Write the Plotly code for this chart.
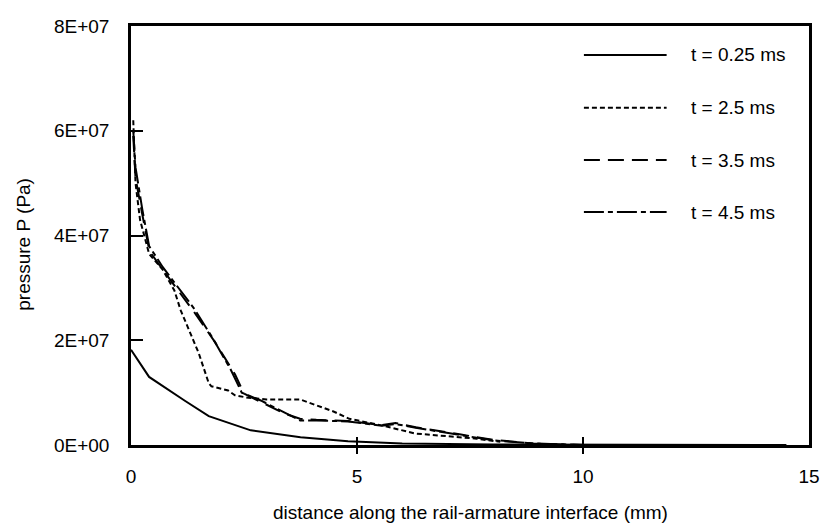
import plotly.graph_objects as go

# ---- data ----
x_025 = [0.0, 0.4, 1.2, 1.72, 2.65, 3.75, 4.8, 6.0, 8.0, 10.0, 12.0, 14.5]
p_025 = [1.82e7, 1.30e7, 0.84e7, 0.55e7, 0.28e7, 0.15e7, 0.07e7, 0.03e7, 0.01e7, 0.004e7, 0.001e7, 0.0]

x_25 = [0.05, 0.1, 0.2, 0.4, 0.7, 0.96, 1.1, 1.28, 1.5, 1.72, 1.78, 2.15, 2.3, 2.6, 3.0, 3.74,
        4.48, 4.83, 5.57, 6.28, 6.57, 7.65, 8.17]
p_25 = [6.2e7, 5.0e7, 4.3e7, 3.65e7, 3.35e7, 2.95e7, 2.57e7, 2.19e7, 1.75e7, 1.18e7, 1.12e7, 1.04e7,
        0.95e7, 0.9e7, 0.87e7, 0.87e7, 0.64e7, 0.5e7, 0.37e7, 0.22e7, 0.2e7, 0.12e7, 0.06e7]

x_35 = [0.05, 0.1, 0.25, 0.41, 0.7, 1.0, 1.43, 1.87, 2.3, 2.5, 2.87, 3.4, 3.74, 4.1, 4.8,
        5.55, 5.85, 6.3, 7.3, 8.0, 8.9, 10.0]
p_35 = [5.9e7, 5.1e7, 4.4e7, 3.7e7, 3.35e7, 3.0e7, 2.5e7, 1.95e7, 1.35e7, 0.98e7, 0.83e7, 0.6e7,
        0.5e7, 0.48e7, 0.46e7, 0.38e7, 0.42e7, 0.34e7, 0.2e7, 0.1e7, 0.03e7, 0.0]

x_45 = [0.05, 0.1, 0.25, 0.4, 0.7, 1.0, 1.4, 1.8, 2.2, 2.45, 2.87, 3.4, 3.74, 4.1, 4.8,
        5.55, 5.85, 6.3, 7.3, 8.0, 8.9, 10.0]
p_45 = [6.0e7, 5.3e7, 4.5e7, 3.8e7, 3.4e7, 3.05e7, 2.6e7, 2.05e7, 1.45e7, 1.0e7, 0.85e7, 0.62e7,
        0.47e7, 0.47e7, 0.45e7, 0.37e7, 0.4e7, 0.33e7, 0.19e7, 0.09e7, 0.03e7, 0.0]

series_names = ["t = 0.25 ms", "t = 2.5 ms", "t = 3.5 ms", "t = 4.5 ms"]
series_x = [x_025, x_25, x_35, x_45]
series_y = [p_025, p_25, p_35, p_45]
dashes = ["solid", "5px,3px", "16px,8px", "20px,4px,5px,4px"]

y_tickvals = [0, 2e7, 4e7, 6e7, 8e7]
y_ticktext = ["0E+00", "2E+07", "4E+07", "6E+07", "8E+07"]
x_tickvals = [0, 5, 10, 15]

FONT = "Arial, Liberation Sans, Helvetica, sans-serif"

fig = go.Figure()
for name, xs, ys, d in zip(series_names, series_x, series_y, dashes):
    fig.add_trace(go.Scatter(x=xs, y=ys, mode="lines", name=name,
                             line=dict(color="black", width=2, dash=d),
                             showlegend=False))

# manual legend (long line samples as in the reference)
leg_y = [0.931, 0.805, 0.68, 0.556]
for name, d, ly in zip(series_names, dashes, leg_y):
    fig.add_shape(type="line", xref="paper", yref="paper",
                  x0=0.668, x1=0.79, y0=ly, y1=ly,
                  line=dict(color="black", width=2, dash=d))
    fig.add_annotation(xref="paper", yref="paper", x=0.823, y=ly, text=name,
                       showarrow=False, xanchor="left", yanchor="middle",
                       font=dict(family=FONT, size=19, color="black"))

# axis titles
fig.add_annotation(xref="paper", yref="paper", x=0.5, y=-0.16,
                   text="distance along the rail-armature interface (mm)",
                   showarrow=False, xanchor="center", yanchor="middle",
                   font=dict(family=FONT, size=19, color="black"))
fig.add_annotation(xref="paper", yref="paper", x=-0.158, y=0.48,
                   text="pressure P (Pa)", textangle=-90,
                   showarrow=False, xanchor="center", yanchor="middle",
                   font=dict(family=FONT, size=19, color="black"))

fig.update_layout(
    width=830, height=531,
    margin=dict(l=131, r=10, t=26, b=86),
    paper_bgcolor="white", plot_bgcolor="white",
    font=dict(family=FONT, size=19, color="black"),
    showlegend=False,
)
fig.update_xaxes(range=[0, 15], tickvals=x_tickvals, ticks="inside", ticklen=8,
                 tickwidth=2, tickcolor="black", showgrid=False, zeroline=False,
                 showline=True, linecolor="black", linewidth=2.5, mirror=True,
                 ticklabelstandoff=12,
                 minor=dict(tickvals=[5, 10], ticks="outside", ticklen=6,
                            tickwidth=2, tickcolor="black", showgrid=False),
                 tickfont=dict(family=FONT, size=19))
fig.update_yaxes(range=[0, 8e7], tickvals=y_tickvals, ticktext=y_ticktext,
                 ticks="inside", ticklen=12, tickwidth=2, tickcolor="black",
                 showgrid=False, zeroline=False, showline=True, linecolor="black",
                 linewidth=2.5, mirror=True, ticklabelstandoff=15,
                 tickfont=dict(family=FONT, size=19))

fig.write_html("out.html")
